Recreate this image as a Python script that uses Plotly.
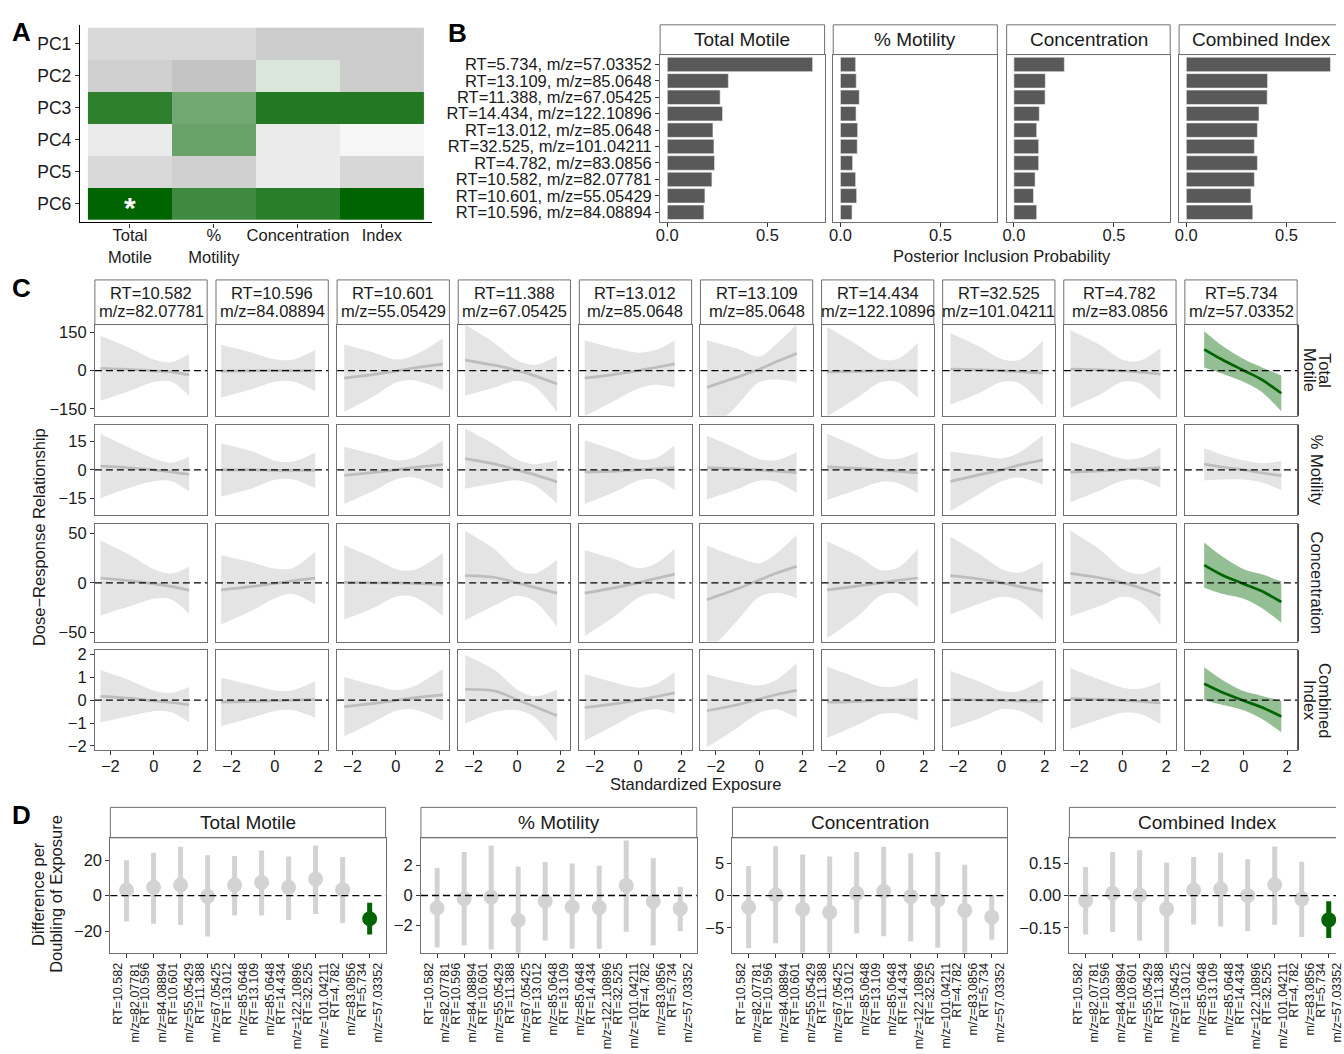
import plotly.graph_objects as go

W, H = 1344, 1054
def X(px): return px / W
def Y(py): return 1 - py / H

FONT = "Liberation Sans, Arial, Helvetica, sans-serif"
TXT = "#1a1a1a"
BORDER = "#707070"
GRAY_BAND = "#e4e4e4"
GRAY_LINE = "#bdbdbd"
GREEN = "#006400"
GREEN_BAND = "rgba(0,100,0,0.42)"
PT_GRAY = "#d3d3d3"
BASE = 16.5

# ------------------------------------------------------------------ DATA
outcomes = ["Total Motile", "% Motility", "Concentration", "Combined Index"]

# Panel A: heat values (0..0.5 grey shades, 0.5..1 white->green)
pcs = ["PC1", "PC2", "PC3", "PC4", "PC5", "PC6"]
heat_cols = ["Total<br>Motile", "%<br>Motility", "Concentration", "Index"]
heat_values = [
    [0.20, 0.20, 0.08, 0.08],
    [0.11, 0.00, 0.56, 0.08],
    [0.91, 0.77, 0.93, 0.93],
    [0.375, 0.79, 0.375, 0.48],
    [0.20, 0.115, 0.375, 0.18],
    [1.00, 0.87, 0.915, 1.00],
]
heat_star = ("Total<br>Motile", "PC6")

# Panel B: posterior inclusion probabilities
pip_features = ["RT=5.734, m/z=57.03352", "RT=13.109, m/z=85.0648", "RT=11.388, m/z=67.05425",
                "RT=14.434, m/z=122.10896", "RT=13.012, m/z=85.0648", "RT=32.525, m/z=101.04211",
                "RT=4.782, m/z=83.0856", "RT=10.582, m/z=82.07781", "RT=10.601, m/z=55.05429",
                "RT=10.596, m/z=84.08894"]
pip_total_motile = [0.726, 0.305, 0.264, 0.276, 0.228, 0.233, 0.236, 0.223, 0.188, 0.183]
pip_pct_motility = [0.076, 0.079, 0.094, 0.078, 0.086, 0.084, 0.061, 0.076, 0.081, 0.058]
pip_concentration = [0.252, 0.157, 0.156, 0.127, 0.114, 0.124, 0.124, 0.106, 0.098, 0.114]
pip_combined = [0.720, 0.406, 0.404, 0.363, 0.355, 0.340, 0.355, 0.340, 0.323, 0.332]
pip_values = [pip_total_motile, pip_pct_motility, pip_concentration, pip_combined]

# Panels C / D: features
feat_rt = ["10.582", "10.596", "10.601", "11.388", "13.012", "13.109", "14.434", "32.525", "4.782", "5.734"]
feat_mz = ["82.07781", "84.08894", "55.05429", "67.05425", "85.0648", "85.0648", "122.10896",
           "101.04211", "83.0856", "57.03352"]

# Panel C: exposure grid per feature
exp_min = [-2.45, -2.47, -2.38, -2.39, -2.46, -2.41, -2.45, -2.35, -2.40, -1.82]
exp_max = [1.63, 1.86, 2.16, 1.84, 1.68, 1.72, 1.72, 1.90, 1.74, 1.73]
exp_inner = [-1.0, 0.0, 0.8]

# estimates and CI half-widths at [min, -1, 0, 0.8, max]
curve_est = [
    [[9, 4, -1, -5, -17], [-2, -1, 0, 0, 0], [-30, -15, -2, 10, 25], [41, 20, 0, -20, -53],
     [-30, -14, 0, 12, 26], [-66, -25, 5, 35, 67], [-5, -3, -1, 0, 0], [6, 3, 0, -4, -10],
     [6, 3, -1, -6, -14], [83, 43, 0, -34, -89]],
    [[2, 1, 0, -1, -2.3], [0, 0, -0.2, -0.3, -0.3], [-2.8, -1.3, 0, 1.2, 2.8], [5.9, 3, 0, -2.5, -6.3],
     [-1.2, -0.6, 0, 0.6, 1.2], [1.2, 0.5, 0, -0.6, -1.4], [1.6, 0.8, 0, -0.6, -1.5], [-6, -2.5, 0, 2.5, 5.2],
     [-1.2, -0.5, 0, 0.5, 1.2], [3, 1.5, 0, -1.5, -3]],
    [[5, 2, -1, -3.5, -7.5], [-7, -3.5, -0.5, 2, 5], [0.5, 0, 0, -0.5, -1.5], [7.4, 5.5, 0, -4.5, -10.4],
     [-10.4, -4.5, 0, 4.5, 9], [-17, -6, 3, 10, 16.8], [-7, -3, 0, 2.5, 5], [7.4, 4, 0, -3.5, -8.4],
     [9.7, 5, 0, -5, -12.7], [18, 8, -1, -8, -19.4]],
    [[0.17, 0.08, -0.03, -0.1, -0.2], [-0.08, -0.05, -0.02, 0, 0.03], [-0.28, -0.14, -0.01, 0.1, 0.23],
     [0.48, 0.4, 0.02, -0.28, -0.68], [-0.32, -0.15, 0, 0.15, 0.32], [-0.46, -0.2, 0.05, 0.25, 0.43],
     [-0.09, -0.05, 0, 0.02, 0.04], [0.03, 0.01, 0, -0.03, -0.06], [0.07, 0.03, 0, -0.05, -0.12],
     [0.72, 0.35, -0.02, -0.3, -0.71]],
]
curve_hw = [
    [[127, 80, 44, 38, 82], [103, 70, 44, 42, 80], [132, 85, 45, 48, 100], [139, 85, 40, 42, 110],
     [148, 100, 70, 68, 92], [185, 110, 50, 70, 113], [175, 100, 45, 45, 108], [140, 90, 45, 45, 127],
     [152, 95, 43, 44, 102], [71, 55, 45, 48, 70]],
    [[16.8, 10, 6, 4.8, 9.2], [14, 9.5, 5, 4.6, 9.3], [15, 9.5, 5, 5, 12.7], [15.8, 10, 5.5, 5.5, 11.3],
     [16.7, 10.5, 5.5, 5.5, 11.7], [16.7, 10.5, 5.7, 5.7, 10.7], [17.4, 11, 6.3, 6.3, 10.7],
     [15.6, 10, 6, 6.5, 12.9], [15.8, 10, 5.7, 5.7, 10.5], [8.5, 6.5, 5, 5, 7.6]],
    [[38, 25, 15, 13, 24], [35, 24, 15, 13, 27], [37.7, 25, 14, 13.5, 32], [45.5, 28, 13, 14, 34],
     [43.5, 28, 15, 15, 26], [55, 32, 17, 20, 32], [49, 30, 13, 13, 29.5], [39.5, 25, 14, 14, 29.3],
     [43.5, 28, 14, 14, 30], [23, 19, 15, 17, 21]],
    [[1.15, 0.75, 0.45, 0.42, 0.78], [1.06, 0.7, 0.45, 0.43, 0.8], [1.3, 0.8, 0.45, 0.5, 1.13],
     [1.5, 0.9, 0.45, 0.45, 1.15], [1.45, 0.9, 0.55, 0.55, 0.9], [1.6, 1.0, 0.6, 0.65, 1.2],
     [1.56, 1.0, 0.6, 0.6, 0.94], [1.25, 0.8, 0.4, 0.42, 0.95], [1.33, 0.85, 0.55, 0.55, 0.92],
     [0.72, 0.55, 0.42, 0.5, 0.69]],
]
curve_signif = [
    [False] * 9 + [True],
    [False] * 10,
    [False] * 9 + [True],
    [False] * 9 + [True],
]
c_row_labels = [["Total", "Motile"], ["% Motility"], ["Concentration"], ["Combined", "Index"]]
c_yticks = [[-150, 0, 150], [-15, 0, 15], [-50, 0, 50], [-2, -1, 0, 1, 2]]
c_yranges = [[-177, 180], [-23.6, 23.7], [-59.5, 60], [-2.19, 2.19]]

# Panel D: difference per doubling of exposure
d_est = [
    [3.2, 4.7, 6.0, -0.4, 6.0, 7.5, 4.7, 9.4, 3.4, -13.0],
    [-0.84, -0.22, -0.11, -1.65, -0.37, -0.77, -0.81, 0.66, -0.40, -0.88],
    [-1.8, 0.1, -2.1, -2.6, 0.36, 0.67, -0.15, -0.67, -2.3, -3.35],
    [-0.023, 0.011, 0.003, -0.062, 0.026, 0.031, 0.0, 0.051, -0.015, -0.113],
]
d_lo = [
    [-14.4, -15.9, -16.5, -23.0, -11.2, -11.2, -13.7, -10.3, -15.5, -22.0],
    [-3.48, -3.34, -3.59, -5.2, -3.01, -3.56, -3.56, -2.42, -3.34, -2.38],
    [-8.2, -7.4, -10.6, -11.3, -5.9, -6.3, -7.1, -8.1, -9.5, -6.85],
    [-0.181, -0.170, -0.209, -0.280, -0.135, -0.144, -0.165, -0.136, -0.193, -0.198],
]
d_hi = [
    [20.0, 24.3, 27.7, 22.8, 22.4, 25.6, 22.1, 28.4, 21.9, -4.0],
    [1.83, 2.9, 3.34, 1.94, 2.24, 2.13, 1.98, 3.67, 2.49, 0.59],
    [4.6, 7.7, 6.4, 6.1, 6.8, 7.6, 6.6, 6.8, 4.8, 0.15],
    [0.134, 0.204, 0.212, 0.155, 0.181, 0.200, 0.170, 0.229, 0.158, -0.026],
]
d_signif = [
    [False] * 9 + [True],
    [False] * 10,
    [False] * 10,
    [False] * 9 + [True],
]
d_yticks = [[-20, 0, 20], [-2, 0, 2], [-5, 0, 5], [-0.15, 0, 0.15]]
d_yranges = [[-32.3, 32.7], [-3.83, 3.85], [-8.9, 9.0], [-0.267, 0.27]]
d_tickformat = ["d", "d", "d", ".2f"]

# ------------------------------------------------------------------ BUILD
traces = []
shapes = []
annotations = []
layout = dict(width=W, height=H, autosize=False, margin=dict(l=0, r=0, t=0, b=0),
              paper_bgcolor="white", plot_bgcolor="white", showlegend=False,
              font=dict(family=FONT, size=BASE, color=TXT))
axn = [0]


def new_axes(xpx, ypx, xkw, ykw):
    axn[0] += 1
    n = axn[0]
    xk = "xaxis" if n == 1 else f"xaxis{n}"
    yk = "yaxis" if n == 1 else f"yaxis{n}"
    xr = "x" if n == 1 else f"x{n}"
    yr = "y" if n == 1 else f"y{n}"
    layout[xk] = dict(domain=[X(xpx[0]), X(xpx[1])], anchor=yr, **xkw)
    layout[yk] = dict(domain=[Y(ypx[1]), Y(ypx[0])], anchor=xr, **ykw)
    return xr, yr


def ann(text, px, py, size=BASE, angle=0, xanchor="center", yanchor="middle", color=TXT, bold=False):
    if bold:
        text = f"<b>{text}</b>"
    annotations.append(dict(text=text, x=X(px), y=Y(py), xref="paper", yref="paper", showarrow=False,
                            font=dict(size=size, color=color, family=FONT), textangle=angle,
                            xanchor=xanchor, yanchor=yanchor))


def strip(x0, y0, x1, y1, lines, size, full_w, right=True, line_gap=0):
    if right:
        shapes.append(dict(type="rect", xref="paper", yref="paper", x0=X(x0), x1=X(x1), y0=Y(y1), y1=Y(y0),
                           line=dict(color=BORDER, width=1), fillcolor="white", layer="below"))
    else:
        for (a, b, c, d) in [(x0, y0, x1, y0), (x0, y0, x0, y1), (x0, y1, x1, y1)]:
            shapes.append(dict(type="line", xref="paper", yref="paper", x0=X(a), x1=X(c), y0=Y(b), y1=Y(d),
                               line=dict(color=BORDER, width=1)))
    cx = x0 + full_w / 2
    cy = (y0 + y1) / 2
    n = len(lines)
    for k, t in enumerate(lines):
        ann(t, cx, cy + (k - (n - 1) / 2) * line_gap, size=size)


def zero_line(xr, yr):
    shapes.append(dict(type="line", xref=f"{xr} domain", yref=yr, x0=0, x1=1, y0=0, y1=0,
                       line=dict(color="black", width=1.3, dash="7px,4px"), layer="above"))


tickfont = dict(size=BASE, color=TXT, family=FONT)
box_common = dict(showline=True, linecolor=BORDER, linewidth=1, showgrid=False, zeroline=False,
                  tickcolor="#333333", ticklen=4, tickwidth=1, tickfont=tickfont)

# ---- Panel A
xr, yr = new_axes((76.7, 431.7), (20, 219.3),
                  dict(type="category", categoryorder="array", categoryarray=heat_cols,
                       range=[-0.594, 3.594], showline=True, linecolor="black", linewidth=1.3,
                       ticks="outside", ticklen=4, tickcolor="#333", showgrid=False, zeroline=False,
                       tickfont=tickfont, ticklabelstandoff=-6),
                  dict(type="category", categoryorder="array", categoryarray=pcs,
                       range=[5.59, -0.59], showline=True, linecolor="black", linewidth=1.3,
                       ticks="outside", ticklen=4, tickcolor="#333", showgrid=False, zeroline=False,
                       tickfont=dict(size=17.5, color=TXT, family=FONT)))
traces.append(go.Heatmap(z=heat_values, x=heat_cols, y=pcs, zmin=0, zmax=1, showscale=False,
                         colorscale=[[0, "#c4c4c4"], [0.5, "#f8f8f8"], [1, "#006400"]],
                         xaxis=xr, yaxis=yr, hoverinfo="skip"))
annotations.append(dict(text="<b>*</b>", x=heat_star[0], y=heat_star[1], xref=xr, yref=yr,
                        showarrow=False, font=dict(size=30, color="white", family=FONT), yshift=-4))

# ---- Panel B
b_x = [(662, 828), (836.7, 1002.3), (1011.7, 1176.7), (1185.7, 1344)]
for i, (x0, x1) in enumerate(b_x):
    clipped = (x1 >= 1344)
    right = -0.036 + (x1 - x0) / 202.0
    xkw = dict(box_common, range=[-0.036, right], tickvals=[0, 0.5], ticktext=["0.0", "0.5"],
               ticks="outside", mirror=True, ticklabelstandoff=-6)
    ykw = dict(box_common, type="category", categoryorder="array", categoryarray=pip_features,
               tickmode="array", tickvals=pip_features,
               range=[9.6, -0.6], mirror=not clipped,
               ticks="outside" if i == 0 else "", showticklabels=(i == 0))
    xr, yr = new_axes((x0, x1), (50, 219), xkw, ykw)
    traces.append(go.Bar(x=pip_values[i], y=pip_features, orientation="h", xaxis=xr, yaxis=yr,
                         marker=dict(color="#595959", line=dict(color="#f0f0f0", width=0.6)),
                         width=0.88, hoverinfo="skip"))
    strip(x0, 20, x1, 50, [outcomes[i]], 19, 166, right=not clipped)
ann("Posterior Inclusion Probability", 1007, 253)

# ---- Panel C
c_left0, c_pitch, c_w = 91.7, 122.2, 113.3
c_rows = [(322.3, 414.3), (423.3, 514.3), (523.3, 642.0), (650.7, 751.7)]
for r in range(4):
    for c in range(10):
        x0 = c_left0 + c_pitch * c
        x1 = x0 + c_w
        bottom = (r == 3)
        first = (c == 0)
        xkw = dict(box_common, range=[-2.71, 2.46], tickvals=[-2, 0, 2], mirror=True,
                   ticks="outside" if bottom else "", showticklabels=bottom, ticklabelstandoff=-3)
        ykw = dict(box_common, range=c_yranges[r], tickvals=c_yticks[r], mirror=True,
                   ticks="outside" if first else "", showticklabels=first)
        xr, yr = new_axes((x0, x1), c_rows[r], xkw, ykw)
        xs = [exp_min[c]] + exp_inner + [exp_max[c]]
        est = curve_est[r][c]
        hw = curve_hw[r][c]
        lo = [e - h for e, h in zip(est, hw)]
        hi = [e + h for e, h in zip(est, hw)]
        sig = curve_signif[r][c]
        band = GREEN_BAND if sig else GRAY_BAND
        lcol = GREEN if sig else GRAY_LINE
        traces.append(go.Scatter(x=xs, y=lo, mode="lines", line=dict(width=0, shape="spline", smoothing=0.9),
                                 xaxis=xr, yaxis=yr, hoverinfo="skip"))
        traces.append(go.Scatter(x=xs, y=hi, mode="lines", line=dict(width=0, shape="spline", smoothing=0.9),
                                 fill="tonexty", fillcolor=band, xaxis=xr, yaxis=yr, hoverinfo="skip"))
        traces.append(go.Scatter(x=xs, y=est, mode="lines",
                                 line=dict(width=2.7, color=lcol, shape="spline", smoothing=0.9),
                                 xaxis=xr, yaxis=yr, hoverinfo="skip"))
        zero_line(xr, yr)
        if r == 0:
            strip(x0, 277.3, x1, 322.3, [f"RT={feat_rt[c]}", f"m/z={feat_mz[c]}"], BASE, c_w,
                  line_gap=18.5)
    # row strip on the right
    y0, y1 = c_rows[r]
    shapes.append(dict(type="line", xref="paper", yref="paper", x0=X(1306), x1=X(1306), y0=Y(y1), y1=Y(y0),
                       line=dict(color="#222222", width=1)))
    labs = c_row_labels[r]
    if len(labs) == 1:
        ann(labs[0], 1325, (y0 + y1) / 2, angle=90)
    else:
        ann(labs[0], 1333, (y0 + y1) / 2, angle=90)
        ann(labs[1], 1318, (y0 + y1) / 2, angle=90)
ann("Standardized Exposure", 698, 786)
ann("Dose\u2212Response Relationship", 36, 537, angle=-90)

# ---- Panel D
d_cats = [f"RT={a}<br>m/z={b}" for a, b in zip(feat_rt, feat_mz)]
d_x = [(107.3, 385.0), (420.7, 699.0), (735.0, 1012.5), (1075.0, 1344.0)]
d_full_w = 278.0
cat_px = d_full_w / 10.2
for i, (x0, x1) in enumerate(d_x):
    clipped = (x1 >= 1344)
    xmax = -0.6 + (x1 - x0) / cat_px
    xkw = dict(box_common, type="category", categoryorder="array", categoryarray=d_cats,
               range=[-0.6, xmax], mirror=True, ticks="outside", tickangle=-90,
               tickfont=dict(size=12.5, color=TXT, family=FONT))
    ykw = dict(box_common, range=d_yranges[i], tickvals=d_yticks[i], tickformat=d_tickformat[i],
               mirror=not clipped, ticks="outside")
    xr, yr = new_axes((x0, x1), (840, 956), xkw, ykw)
    for sig, col in [(False, PT_GRAY), (True, GREEN)]:
        idx = [k for k in range(10) if d_signif[i][k] == sig]
        if not idx:
            continue
        traces.append(go.Scatter(
            x=[d_cats[k] for k in idx], y=[d_est[i][k] for k in idx], mode="markers",
            marker=dict(size=15, color=col, line=dict(width=0)),
            error_y=dict(type="data", symmetric=False,
                         array=[d_hi[i][k] - d_est[i][k] for k in idx],
                         arrayminus=[d_est[i][k] - d_lo[i][k] for k in idx],
                         thickness=5, width=0, color=col),
            xaxis=xr, yaxis=yr, hoverinfo="skip"))
    zero_line(xr, yr)
    strip(x0, 809.3, x1, 840, [outcomes[i]], 19, d_full_w, right=not clipped)
ann("Difference per", 35, 897, angle=-90)
ann("Doubling of Exposure", 53, 897, angle=-90)

# ---- Panel letters
ann("A", 6, 27, size=26, xanchor="left", bold=True, color="black")
ann("B", 446, 28, size=26, xanchor="left", bold=True, color="black")
ann("C", 6, 285, size=26, xanchor="left", bold=True, color="black")
ann("D", 6, 817, size=26, xanchor="left", bold=True, color="black")

layout["shapes"] = shapes
layout["annotations"] = annotations
fig = go.Figure(data=traces, layout=layout)
fig.write_html("out.html", config={"displayModeBar": False},
               post_script="document.body.style.margin='0px';")
